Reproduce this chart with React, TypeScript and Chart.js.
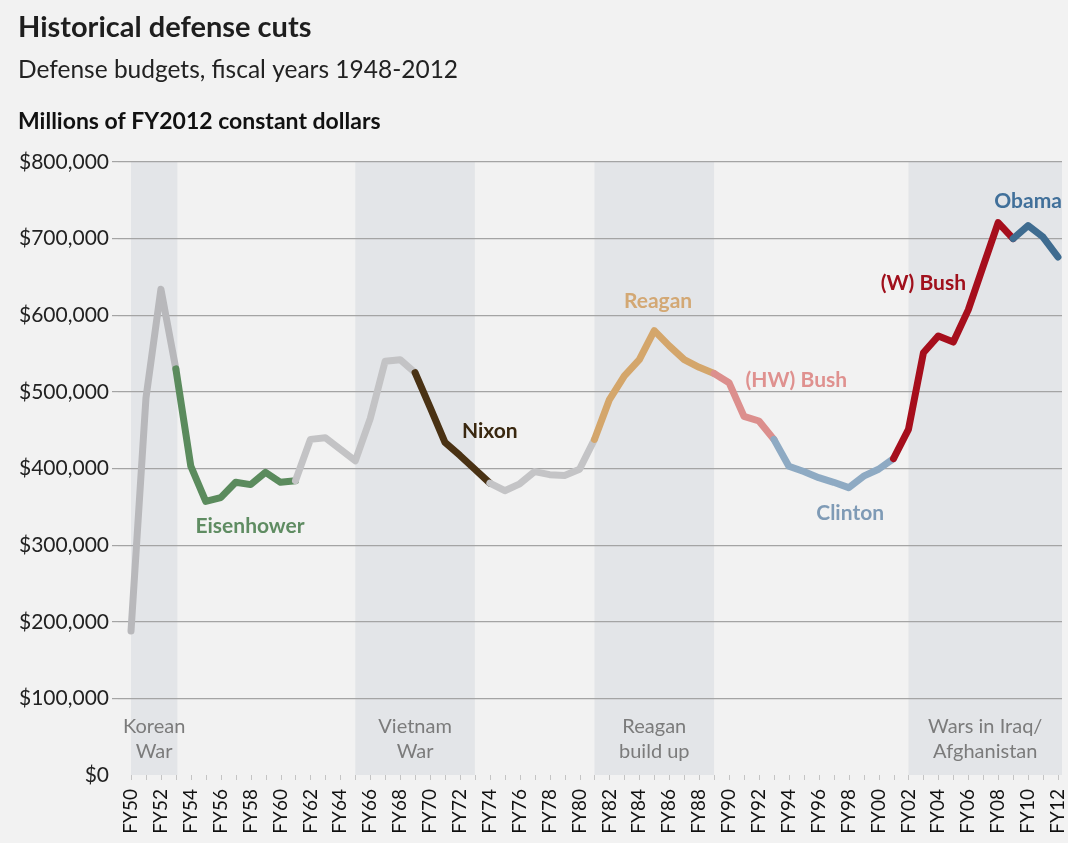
import React, { useEffect, useRef } from "react";
import { Chart, registerables } from "chart.js";

Chart.register(...registerables);

// ---- Data ----
const FISCAL_YEARS = [
  1950, 1951, 1952, 1953, 1954, 1955, 1956, 1957, 1958, 1959,
  1960, 1961, 1962, 1963, 1964, 1965, 1966, 1967, 1968, 1969,
  1970, 1971, 1972, 1973, 1974, 1975, 1976, 1977, 1978, 1979,
  1980, 1981, 1982, 1983, 1984, 1985, 1986, 1987, 1988, 1989,
  1990, 1991, 1992, 1993, 1994, 1995, 1996, 1997, 1998, 1999,
  2000, 2001, 2002, 2003, 2004, 2005, 2006, 2007, 2008, 2009,
  2010, 2011, 2012,
];

// Millions of FY2012 constant dollars
const BUDGET = [
  188000, 492000, 634000, 530000, 403000, 357000, 362000, 382000, 379000, 395000,
  382000, 384000, 438000, 440000, 425000, 410000, 465000, 540000, 542000, 525000,
  480000, 434000, 417000, 399000, 381000, 371000, 380000, 396000, 392000, 391000,
  399000, 438000, 490000, 521000, 542000, 580000, 560000, 542000, 532000, 524000,
  512000, 468000, 462000, 438000, 403000, 396000, 388000, 382000, 375000, 390000,
  399000, 413000, 451000, 551000, 573000, 565000, 607000, 664000, 721000, 700000,
  717000, 702000, 676000,
];

const TICK_YEARS = [
  1950, 1952, 1954, 1956, 1958, 1960, 1962, 1964, 1966, 1968, 1970, 1972, 1974, 1976, 1978, 1980,
  1982, 1984, 1986, 1988, 1990, 1992, 1994, 1996, 1998, 2000, 2002, 2004, 2006, 2008, 2010, 2012,
];

const Y_TICKS = [0, 100000, 200000, 300000, 400000, 500000, 600000, 700000, 800000];

// Administrations (line segment starting year range)
const ADMIN_KEYS = ["truman", "eisenhower", "kennedyJohnson", "nixon", "fordCarter", "reagan", "hwBush", "clinton", "wBush", "obama"];
const ADMIN_START = [1950, 1953, 1961, 1969, 1974, 1981, 1989, 1993, 2001, 2009];
const ADMIN_END = [1953, 1961, 1969, 1974, 1981, 1989, 1993, 2001, 2009, 2013];

// Labelled administrations
const LABEL_TEXTS = ["Eisenhower", "Nixon", "Reagan", "(HW) Bush", "Clinton", "(W) Bush", "Obama"];
const LABEL_ADMINS = ["eisenhower", "nixon", "reagan", "hwBush", "clinton", "wBush", "obama"];
const LABEL_AT_YEAR = [1957.96, 1974.0, 1985.25, 1994.5, 1998.1, 2003.0, 2010.0];
const LABEL_AT_VALUE = [325000, 448000, 618000, 515000, 342000, 642000, 749000];

// Shaded war periods
const BAND_LINES = [["Korean", "War"], ["Vietnam", "War"], ["Reagan", "build up"], ["Wars in Iraq/", "Afghanistan"]];
const BAND_START = [1950, 1965, 1981, 2002];
const BAND_END = [1953.1, 1973, 1989, 2012.3];

// ---- Styles ----
const LINE_COLORS: Record<string, string> = {
  truman: "#b8b8bb",
  eisenhower: "#5b8b5d",
  kennedyJohnson: "#c3c3c5",
  nixon: "#4a3214",
  fordCarter: "#c4c4c6",
  reagan: "#d4a66b",
  hwBush: "#dc8f8d",
  clinton: "#8eaac3",
  wBush: "#a60e1c",
  obama: "#3f6c90",
};
const LABEL_COLORS: Record<string, string> = {
  eisenhower: "#5f8c62",
  nixon: "#3a2810",
  reagan: "#d3a874",
  hwBush: "#df918f",
  clinton: "#7f9bb6",
  wBush: "#a0101c",
  obama: "#41709a",
};
const FONT = "Lato, 'Open Sans', sans-serif";

function adminForYear(y: number): string {
  for (let i = 0; i < ADMIN_KEYS.length; i++) {
    if (y >= ADMIN_START[i] && y < ADMIN_END[i]) return ADMIN_KEYS[i];
  }
  return "obama";
}

const decorPlugin = {
  id: "decor",
  beforeDraw(chart: any) {
    const { ctx, chartArea, scales } = chart;
    ctx.save();
    ctx.fillStyle = "#f2f2f2";
    ctx.fillRect(0, 0, chart.width, chart.height);
    ctx.fillStyle = "#e3e5e8";
    for (let i = 0; i < BAND_START.length; i++) {
      const x0 = scales.x.getPixelForValue(BAND_START[i]);
      const x1 = Math.min(scales.x.getPixelForValue(BAND_END[i]), chartArea.right);
      ctx.fillRect(x0, chartArea.top, x1 - x0, chartArea.bottom - chartArea.top);
    }
    ctx.restore();
  },
  afterDraw(chart: any) {
    const { ctx, chartArea, scales } = chart;
    ctx.save();
    // header
    ctx.textAlign = "left";
    ctx.textBaseline = "alphabetic";
    ctx.fillStyle = "#1e1e1e";
    ctx.font = `bold 29px ${FONT}`;
    ctx.fillText("Historical defense cuts", 18, 37);
    ctx.fillStyle = "#222";
    ctx.font = `24.5px ${FONT}`;
    ctx.fillText("Defense budgets, fiscal years 1948-2012", 18, 78);
    ctx.fillStyle = "#111";
    ctx.font = `bold 23px ${FONT}`;
    ctx.fillText("Millions of FY2012 constant dollars", 18, 129);

    // minor ticks
    ctx.strokeStyle = "#c4c4c4";
    ctx.lineWidth = 1;
    for (const yr of FISCAL_YEARS) {
      const x = Math.round(scales.x.getPixelForValue(yr)) + 0.5;
      ctx.beginPath();
      ctx.moveTo(x, chartArea.bottom);
      ctx.lineTo(x, chartArea.bottom + 5);
      ctx.stroke();
    }

    // band labels
    ctx.textAlign = "center";
    ctx.textBaseline = "middle";
    ctx.fillStyle = "#7b7b7b";
    ctx.font = `20px ${FONT}`;
    for (let i = 0; i < BAND_LINES.length; i++) {
      const x0 = scales.x.getPixelForValue(BAND_START[i]);
      const x1 = Math.min(scales.x.getPixelForValue(BAND_END[i]), chartArea.right);
      const cx = (x0 + x1) / 2;
      BAND_LINES[i].forEach((t, j) => ctx.fillText(t, cx, 727 + j * 25));
    }

    // administration labels
    ctx.font = `bold 21px ${FONT}`;
    for (let i = 0; i < LABEL_TEXTS.length; i++) {
      ctx.fillStyle = LABEL_COLORS[LABEL_ADMINS[i]];
      ctx.fillText(
        LABEL_TEXTS[i],
        scales.x.getPixelForValue(LABEL_AT_YEAR[i]),
        scales.y.getPixelForValue(LABEL_AT_VALUE[i])
      );
    }
    ctx.restore();
  },
};

export default function App() {
  const ref = useRef<HTMLCanvasElement | null>(null);
  useEffect(() => {
    if (!ref.current) return;
    const chart = new Chart(ref.current, {
      type: "line",
      data: {
        datasets: [
          {
            data: FISCAL_YEARS.map((y, i) => ({ x: y, y: BUDGET[i] })),
            borderWidth: 7,
            pointRadius: 0,
            tension: 0,
            borderJoinStyle: "round",
            borderCapStyle: "round",
            borderColor: "#bbb",
            segment: {
              borderColor: (c: any) => LINE_COLORS[adminForYear(FISCAL_YEARS[c.p0DataIndex])],
            },
          } as any,
        ],
      },
      options: {
        responsive: false,
        animation: false,
        layout: { padding: { top: 162, right: 6, left: 0, bottom: 0 } },
        plugins: { legend: { display: false }, tooltip: { enabled: false } },
        scales: {
          x: {
            type: "linear",
            min: 1949.13,
            max: 2012.27,
            grid: { display: false, drawTicks: false, tickLength: 0 },
            border: { display: false },
            afterBuildTicks: (s: any) => {
              s.ticks = TICK_YEARS.map((v) => ({ value: v }));
            },
            afterFit: (s: any) => {
              s.height = 68;
              s.paddingLeft = 0;
              s.paddingRight = 0;
            },
            ticks: {
              autoSkip: false,
              minRotation: 90,
              maxRotation: 90,
              padding: 14,
              color: "#111",
              font: { family: FONT, size: 19 },
              callback: (v: any) => "FY" + String(Number(v) % 100).padStart(2, "0"),
            },
          },
          y: {
            min: 0,
            max: 800000,
            afterBuildTicks: (s: any) => {
              s.ticks = Y_TICKS.map((v) => ({ value: v }));
            },
            afterFit: (s: any) => {
              s.width = 118;
              s.paddingTop = 0;
              s.paddingBottom = 0;
            },
            grid: {
              color: (c: any) => (c.tick && c.tick.value === 0 ? "rgba(0,0,0,0)" : "#a4a4a4"),
              lineWidth: 1.2,
              tickLength: 6,
            },
            border: { display: false },
            ticks: {
              padding: 3,
              color: "#222",
              font: { family: FONT, size: 21 },
              callback: (v: any) => "$" + Number(v).toLocaleString("en-US"),
            },
          },
        },
      },
      plugins: [decorPlugin],
    });
    return () => chart.destroy();
  }, []);

  return (
    <div style={{ position: "absolute", left: 0, top: 0, width: 1068, height: 843, background: "#f2f2f2" }}>
      <canvas ref={ref} width={1068} height={843} style={{ width: 1068, height: 843, display: "block" }} />
    </div>
  );
}
